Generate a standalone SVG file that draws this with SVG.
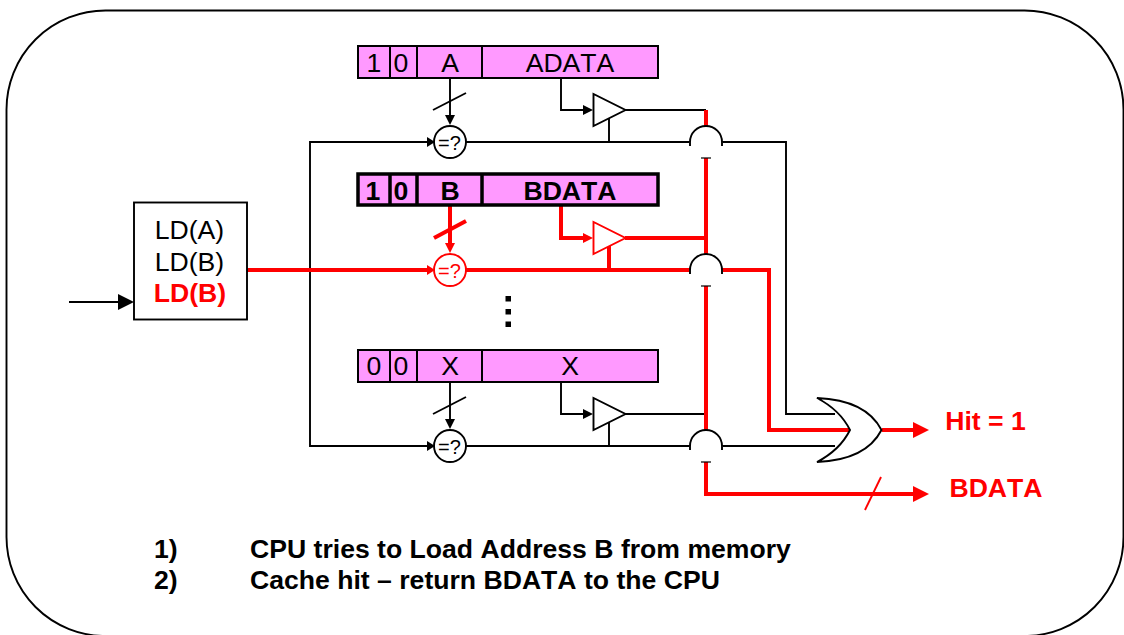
<svg xmlns="http://www.w3.org/2000/svg" width="1124" height="635" viewBox="0 0 1124 635">
<style>
text{font-family:"Liberation Sans",Arial,sans-serif;text-anchor:middle;fill:#000;font-kerning:none;font-size:26.6px}
.k{fill:none;stroke:#000;stroke-width:1.9}
.r{fill:none;stroke:#f00;stroke-width:4}
.rt{fill:none;stroke:#f00;stroke-width:1.9}
.cell{fill:#f9f;stroke:#000;stroke-width:2}
.cellb{fill:#f9f;stroke:#000;stroke-width:3.5}
.tb{font-weight:bold}
.red{font-weight:bold;fill:#f00}
.note{font-weight:bold;text-anchor:start}
.c{font-size:20px}
.ah{fill:#000}
.ahr{fill:#f00}
</style>
<defs>
<g id="hop"><rect x="-17" y="0" width="34" height="16" fill="#fff"/><path d="M-16,4 V0 A16,16 0 0 1 16,0 V4" fill="#fff" stroke="#000" stroke-width="1.900"/><path d="M-5,16 H5" stroke="#000" stroke-width="1.200"/></g>
</defs>
<rect id="frame" x="6.500" y="10.500" width="1117" height="625.500" rx="99" ry="99" fill="none" stroke="#000" stroke-width="1.900"/>
<g id="connectors">
<path class="k" d="M430,142 H310 V446 H430"/>
<path class="k" d="M466,142 H786 V414 H835"/>
<path class="k" d="M625,110 H706"/>
<path class="k" d="M450,78 V116"/>
<path class="k" d="M433,110 L466,93"/>
<path class="k" d="M561,78 V110 H584"/>
<path class="k" d="M609,118 V142"/>
<path class="k" d="M450,382 V420"/>
<path class="k" d="M433,414 L466,397"/>
<path class="k" d="M561,382 V414 H584"/>
<path class="k" d="M609,422 V446"/>
<path class="k" d="M625,414 H706"/>
<path class="k" d="M466,446 H835"/>
<path class="r" d="M247,270 H430"/>
<path class="r" d="M466,270 H769 V430 H850"/>
<path class="r" d="M450,206 V244"/>
<path class="r" d="M434,238 L466,221"/>
<path class="r" d="M561,206 V238 H584"/>
<path class="r" d="M625,238 H706"/>
<path class="r" d="M609,246 V270"/>
<path class="r" d="M706,110 V494 H918"/>
<path class="r" d="M882,430 H918"/>
<path class="rt" d="M865,510 L881,477"/>
<path class="k" d="M69,302 H120"/>
<path class="ahr" d="M929,430 L913,422 V438 Z"/>
<path class="ahr" d="M929,494 L913,486 V502 Z"/>
<path class="ah" d="M134,302 L118,294 V310 Z"/>
<path class="ah" d="M450,125 L445,115 H455 Z"/>
<path class="ah" d="M435,142 L427,137 V147 Z"/>
<path class="ah" d="M593,110 L583,105 V115 Z"/>
<path class="ahr" d="M450,253 L445,243 H455 Z"/>
<path class="ahr" d="M435,270 L427,265 V275 Z"/>
<path class="ahr" d="M593,238 L583,233 V243 Z"/>
<path class="ah" d="M450,429 L445,419 H455 Z"/>
<path class="ah" d="M435,446 L427,441 V451 Z"/>
<path class="ah" d="M593,414 L583,409 V419 Z"/>
<use href="#hop" x="706" y="142"/>
<use href="#hop" x="706" y="270"/>
<use href="#hop" x="706" y="446"/>
</g>
<g id="ld-box">
<rect x="134" y="202.500" width="113" height="117" fill="#fff" stroke="#000" stroke-width="1.900"/>
<text x="189.500" y="239">LD(A)</text>
<text x="189.500" y="271">LD(B)</text>
<text class="red" x="190" y="302">LD(B)</text>
</g>
<g id="lineA">
<rect class="cell" x="358" y="46" width="300" height="32"/>
<path d="M390,46 V78 M417,46 V78 M482,46 V78" stroke="#000" stroke-width="2"/>
<text x="374" y="72">1</text><text x="401" y="72">0</text><text x="450" y="72">A</text><text x="570" y="72">ADATA</text>
</g>
<g id="lineB">
<rect class="cellb" x="358" y="174" width="300" height="31"/>
<path d="M390,174 V205 M417,174 V205 M482,174 V205" stroke="#000" stroke-width="3.500"/>
<text class="tb" x="373" y="200">1</text><text class="tb" x="401" y="200">0</text><text class="tb" x="450" y="200">B</text><text class="tb" x="570" y="200">BDATA</text>
</g>
<g id="lineX">
<rect class="cell" x="358" y="350" width="300" height="32"/>
<path d="M390,350 V382 M417,350 V382 M482,350 V382" stroke="#000" stroke-width="2"/>
<text x="374" y="375">0</text><text x="401" y="375">0</text><text x="450" y="375">X</text><text x="570" y="375">X</text>
</g>
<g id="cmpA"><circle cx="450" cy="142" r="16" fill="#fff" stroke="#000" stroke-width="1.900"/><text class="c" x="449.500" y="150">=?</text></g>
<g id="cmpB"><circle cx="450" cy="270" r="16" fill="#fff" stroke="#f00" stroke-width="1.900"/><text class="c" x="449.500" y="278" style="fill:#f00">=?</text></g>
<g id="cmpX"><circle cx="450" cy="446" r="16" fill="#fff" stroke="#000" stroke-width="1.900"/><text class="c" x="449.500" y="454">=?</text></g>
<g id="bufA"><path d="M593.500,94 V126 L625.500,110 Z" fill="#fff" stroke="#000" stroke-width="1.900"/></g>
<g id="bufB"><path d="M593.500,222 V254 L625.500,238 Z" fill="#fff" stroke="#f00" stroke-width="1.900"/></g>
<g id="bufX"><path d="M593.500,398 V430 L625.500,414 Z" fill="#fff" stroke="#000" stroke-width="1.900"/></g>
<g id="orgate"><path d="M817,398 Q866,400 881.500,430 Q866,460 817,462 Q840,450 850,430 Q840,410 817,398 Z" fill="#fff" stroke="#000" stroke-width="1.900"/></g>
<path id="dots" d="M505.500,296 h5.500 v5.500 h-5.500 Z M505.500,309 h5.500 v5.500 h-5.500 Z M505.500,321.500 h5.500 v5.500 h-5.500 Z" fill="#000"/>
<text class="red" x="985.500" y="430">Hit = 1</text>
<text class="red" x="996" y="497">BDATA</text>
<text class="note" x="154" y="558">1)</text>
<text class="note" x="250" y="558">CPU tries to Load Address B from memory</text>
<text class="note" x="154" y="589">2)</text>
<text class="note" x="250" y="589">Cache hit – return BDATA to the CPU</text>
</svg>
